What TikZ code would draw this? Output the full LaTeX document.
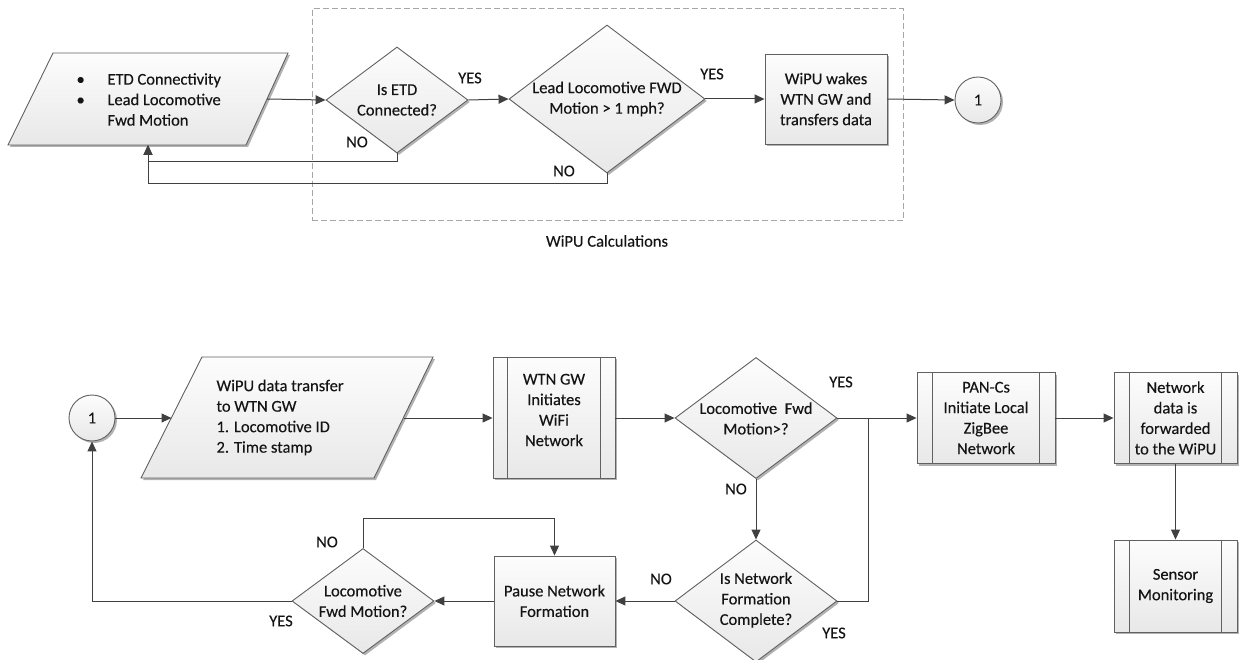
\documentclass[tikz,border=0pt]{standalone}
\usepackage{fontspec}
\setmainfont{Carlito}[FakeBold=0.25]
\usetikzlibrary{shapes.geometric,arrows.meta,shadows}
\begin{document}
\begin{tikzpicture}[x=1pt,y=-1pt,
  shp/.style={draw=black!62, line width=0.9pt, top color=black!1, bottom color=black!9,
    drop shadow={shadow xshift=2pt, shadow yshift=-2pt, fill=black, opacity=0.3}},
  dia/.style={shp, diamond, inner sep=0pt},
  boxx/.style={shp, rectangle, inner sep=0pt},
  txt/.style={align=center, font=\fontsize{16.5}{20.5}\selectfont, text=black!92},
  lab/.style={font=\fontsize{16.5}{20}\selectfont, text=black!92},
  inner/.style={draw=black!62, line width=0.9pt},
  arr/.style={draw=black!75, line width=1pt, -{Triangle[length=10pt,width=9pt]}},
  ln/.style={draw=black!75, line width=1pt},
  grpbox/.style={draw=black!35, line width=1pt, dash pattern=on 6pt off 3pt, minimum width=591pt, minimum height=212pt, inner sep=0pt}
]
\useasboundingbox (0,0) rectangle (1239,660);

% ---------- top row ----------
\node[grpbox] (grp) at (607.5,115) {};
\node[lab] (grplab) at (607,241) {WiPU Calculations};

% parallelogram 1
\path[shp] (53,53) -- (288,53) -- (246,145) -- (8,145) -- cycle;
\coordinate (p1e) at (267,99);
\coordinate (p1s) at (148,145);
\node[txt, align=left, anchor=west] (p1) at (73,99.5)
  {\makebox[31pt][l]{\textbullet}ETD Connectivity\\
   \makebox[31pt][l]{\textbullet}Lead Locomotive\\
   \hspace*{31pt}Fwd Motion};

\node[dia, minimum width=142pt, minimum height=106pt] (d1) at (397,100) {};
\node[txt] (d1t) at (d1) {Is ETD\\Connected?};

\node[dia, minimum width=196pt, minimum height=148pt] (d2) at (607,99) {};
\node[txt] (d2t) at (d2) {Lead Locomotive FWD\\Motion > 1 mph?};

\node[boxx, minimum width=122pt, minimum height=90pt] (b1) at (826,99) {};
\node[txt] (b1t) at (b1) {WiPU wakes\\WTN GW and\\transfers data};

\node[shp, circle, minimum size=46pt, inner sep=0pt, txt] (c1) at (978,100) {1};

\draw[arr] (p1e) -- (d1.west);
\draw[arr] (d1.east) -- (d2.west);
\draw[arr] (d2.east) -- (b1.west);
\draw[arr] (b1.east) -- (c1.west);
\draw[arr] (d1.south) -- ++(0,8) -| (p1s);
\draw[arr] (d2.south) -- ++(0,10) -| (p1s);

\node[lab] (y1) at (470,78) {YES};
\node[lab] (y2) at (712,74) {YES};
\node[lab] (n1) at (357,142) {NO};
\node[lab] (n2) at (564,171) {NO};

% ---------- bottom row ----------
\node[shp, circle, minimum size=46pt, inner sep=0pt, txt] (c2) at (92,418) {1};

% parallelogram 2
\path[shp] (202,357) -- (433,357) -- (374,478) -- (141,478) -- cycle;
\coordinate (p2w) at (171.5,418);
\coordinate (p2e) at (403.5,418);
\node[txt, align=left, anchor=west] (p2) at (213,417.5)
  {WiPU data transfer\\to WTN GW\\1. Locomotive ID\\2. Time stamp};

\node[boxx, minimum width=122pt, minimum height=121pt] (b2) at (554,417.5) {};
\node[txt] (b2t) at (554,410) {WTN GW\\Initiates\\WiFi\\Network};

\node[dia, minimum width=162pt, minimum height=121pt] (d3) at (756,418) {};
\node[txt] (d3t) at (756,418.5) {Locomotive~~Fwd\\Motion>?};

\node[boxx, minimum width=138pt, minimum height=91pt] (b3) at (986,418) {};
\node[txt] (b3t) at (b3) {PAN-Cs\\Initiate Local\\ZigBee\\Network};

\node[boxx, minimum width=123pt, minimum height=91pt] (b4) at (1175.5,418) {};
\node[txt] (b4t) at (b4) {Network\\data is\\forwarded\\to the WiPU};

\node[boxx, minimum width=123pt, minimum height=92pt] (b5) at (1175.5,586) {};
\node[txt] (b5t) at (b5) {Sensor\\Monitoring};

\node[dia, minimum width=162pt, minimum height=122pt] (d4) at (756,601) {};
\node[txt] (d4t) at (756,600) {Is Network\\Formation\\Complete?};

\node[boxx, minimum width=121pt, minimum height=90pt] (b6) at (554.5,601) {};
\node[txt] (b6t) at (b6) {Pause Network\\Formation};

\node[dia, minimum width=142pt, minimum height=105pt] (d5) at (363,601) {};
\node[txt] (d5t) at (d5) {Locomotive\\Fwd Motion?};

% predefined-process inner lines
\foreach \b/\o in {b2/15pt, b3/16pt, b4/16pt, b5/16pt}{
  \draw[inner] ([xshift=\o]\b.north west) -- ([xshift=\o]\b.south west);
  \draw[inner] ([xshift=-\o]\b.north east) -- ([xshift=-\o]\b.south east);
}

\draw[arr] (c2.east) -- (p2w);
\draw[arr] (p2e) -- (p2e -| b2.west);
\draw[arr] (b2.east |- d3.west) -- (d3.west);
\draw[arr] (d3.east) -- (b3.west);
\draw[arr] (b3.east) -- (b4.west);
\draw[arr] (b4.south) -- (b5.north);
\draw[arr] (d3.south) -- (d4.north);
\draw[ln] (d4.east) -- ++(31,0) |- (d3.east);
\draw[arr] (d4.west) -- (b6.east);
\draw[arr] (b6.west) -- (d5.east);
\draw[arr] (d5.north) -- ++(0,-30) -| (b6.north);
\draw[arr] (d5.west) -| (c2.south);

\node[lab] (y3) at (841,382) {YES};
\node[lab] (n3) at (736,489) {NO};
\node[lab] (n4) at (661,579) {NO};
\node[lab] (y4) at (834,633) {YES};
\node[lab] (n5) at (327,542) {NO};
\node[lab] (y5) at (281,621) {YES};
\end{tikzpicture}
\end{document}
